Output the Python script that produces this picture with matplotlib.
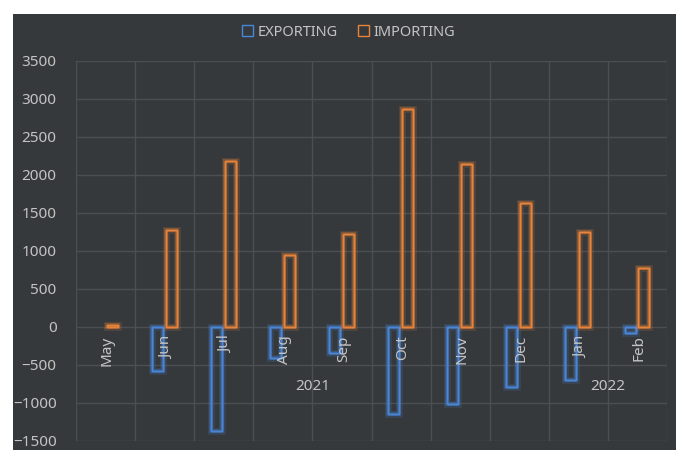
import matplotlib
matplotlib.use("Agg")
import matplotlib.pyplot as plt
import matplotlib.patheffects as pe
from matplotlib.patches import Rectangle, Patch
import numpy as np

# data
months = ["May", "Jun", "Jul", "Aug", "Sep", "Oct", "Nov", "Dec", "Jan", "Feb"]
years = ["2021", "2022"]
year_spans = [(0, 7), (8, 9)]   # first/last month index of each year
exporting = [0, -580, -1370, -410, -340, -1150, -1010, -790, -700, -80]
importing = [25, 1270, 2190, 950, 1230, 2870, 2150, 1630, 1250, 780]

bg = "#36393c"
grid_c = "#4b4e52"
txt_c = "#c4c4c4"
blue = "#4a86d8"
orange = "#e8833a"

plt.rcParams['font.family'] = ['Noto Sans', 'DejaVu Sans']

fig = plt.figure(figsize=(6.76, 4.5), dpi=100, facecolor="white")
# dark chart area (white margin on top and left)
fig.patches.append(Rectangle((13 / 676, 0), 1, (450 - 14) / 450,
                             transform=fig.transFigure, facecolor=bg,
                             edgecolor="none", zorder=-10))

ax = fig.add_axes([76 / 676, 9 / 450, (667 - 76) / 676, (441 - 61) / 450])
ax.set_facecolor(bg)

x = np.arange(len(months))
w = 0.185


def glow(color):
    return [pe.withStroke(linewidth=5, foreground=color, alpha=0.15),
            pe.withStroke(linewidth=3, foreground=color, alpha=0.3),
            pe.Normal()]


bars_e = ax.bar(x - 0.125, exporting, width=w, facecolor="none",
                edgecolor=blue, linewidth=1.0, zorder=3)
bars_i = ax.bar(x + 0.11, importing, width=w, facecolor="none",
                edgecolor=orange, linewidth=1.0, zorder=3)
for b in bars_e:
    if b.get_height() != 0:
        b.set_path_effects(glow(blue))
    else:
        b.set_visible(False)
for b in bars_i:
    b.set_path_effects(glow(orange))

ax.set_xlim(-0.5, len(months) - 0.5)
ax.set_ylim(-1500, 3500)
ax.set_yticks(np.arange(-1500, 3501, 500))
ax.set_xticks(np.arange(-0.5, len(months), 1.0))
ax.set_xticklabels([])
ax.tick_params(axis="both", length=0, colors=txt_c, labelsize=11)
ax.tick_params(axis="y", pad=14)
ax.grid(True, color=grid_c, linewidth=1)
ax.set_axisbelow(True)
for s in ax.spines.values():
    s.set_visible(False)

# month labels just under the zero line
for i, m in enumerate(months):
    ax.annotate(m, (i + 0.03, 0), xytext=(0, -6), textcoords="offset points",
                rotation=90, ha="center", va="top", color=txt_c,
                fontsize=11, zorder=4)

# year labels centred under their months
for yr, (a, b) in zip(years, year_spans):
    ax.annotate(yr, ((a + b) / 2, 0), xytext=(0, -43), textcoords="offset points",
                ha="center", va="center", color=txt_c, fontsize=11)

handles = [Patch(facecolor="none", edgecolor=blue, label="EXPORTING"),
           Patch(facecolor="none", edgecolor=orange, label="IMPORTING")]
fig.legend(handles=handles, loc="center", bbox_to_anchor=(349 / 676, 1 - 32 / 450),
           ncol=2, frameon=False, fontsize=10.5, labelcolor=txt_c,
           handlelength=0.75, handleheight=0.75, handletextpad=0.3,
           columnspacing=1.4)

fig.savefig("out.png", dpi=100, facecolor=fig.get_facecolor())
